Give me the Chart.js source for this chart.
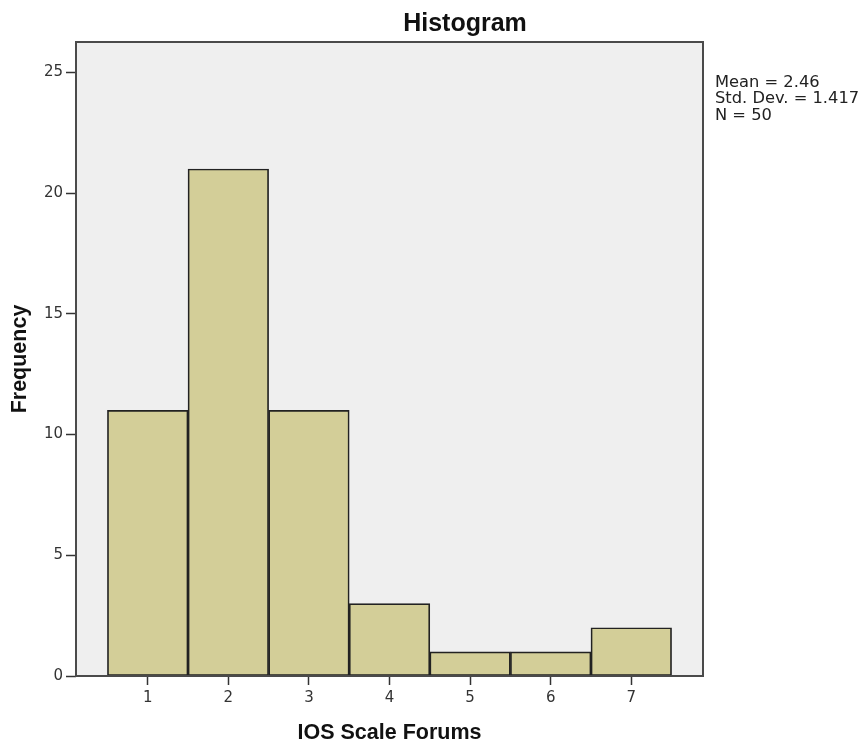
<!DOCTYPE html>
<html>
<head>
<meta charset="utf-8">
<script src="https://cdn.jsdelivr.net/npm/chart.js@4/dist/chart.umd.min.js"></script>
<style>
  html, body { margin: 0; padding: 0; background: #ffffff; }
  canvas { display: block; }
</style>
</head>
<body>
<canvas id="hist" width="858" height="746"></canvas>
<script>
// Histogram of IOS Scale Forums responses
const categories = [1, 2, 3, 4, 5, 6, 7];
const frequencies = [11, 21, 11, 3, 1, 1, 2];
const yTickValues = [0, 5, 10, 15, 20, 25];
const statsLines = ['Mean = 2.46', 'Std. Dev. = 1.417', 'N = 50'];
const chartTitle = 'Histogram';
const xTitle = 'IOS Scale Forums';
const yTitle = 'Frequency';

const TEXT_FONT = "'DejaVu Sans', 'Liberation Sans', sans-serif";
const TITLE_FONT = "'Liberation Sans', Arial, sans-serif";

// Plot panel: grey background and dark frame around the chart area
const panelPlugin = {
  id: 'panel',
  beforeDatasetsDraw(chart) {
    const { ctx, chartArea: a } = chart;
    ctx.save();
    ctx.fillStyle = '#efefef';
    ctx.fillRect(a.left, a.top, a.right - a.left, a.bottom - a.top);
    ctx.restore();
  },
  afterDatasetsDraw(chart) {
    const { ctx, chartArea: a } = chart;
    ctx.save();
    ctx.strokeStyle = '#4a4a4a';
    ctx.lineWidth = 2;
    ctx.strokeRect(a.left, a.top, a.right - a.left, a.bottom - a.top);
    ctx.restore();
  },
  afterDraw(chart) {
    const { ctx, chartArea: a } = chart;
    ctx.save();
    // Main title
    ctx.fillStyle = '#111111';
    ctx.font = "bold 25px " + TITLE_FONT;
    ctx.textAlign = 'center';
    ctx.textBaseline = 'alphabetic';
    ctx.fillText(chartTitle, 465, 31);
    // Summary statistics beside the panel
    ctx.font = "16.3px " + TEXT_FONT;
    ctx.textAlign = 'left';
    ctx.fillStyle = '#222222';
    statsLines.forEach((line, i) => {
      ctx.fillText(line, a.right + 12, 87 + i * 16.4);
    });
    ctx.restore();
  }
};

new Chart(document.getElementById('hist'), {
  type: 'bar',
  data: {
    datasets: [{
      data: categories.map((c, i) => ({ x: c, y: frequencies[i] })),
      backgroundColor: '#d3ce98',
      borderColor: '#222222',
      borderWidth: 1.7,
      borderSkipped: false,
      categoryPercentage: 1.0,
      barPercentage: 1.0
    }]
  },
  options: {
    responsive: false,
    animation: false,
    devicePixelRatio: 1,
    layout: { padding: { top: 42, right: 155, left: 0, bottom: 0 } },
    plugins: {
      legend: { display: false },
      tooltip: { enabled: false },
      title: { display: false }
    },
    scales: {
      x: {
        type: 'linear',
        offset: false,
        min: 0.11,
        max: 7.89,
        afterBuildTicks(scale) { scale.ticks = categories.map(v => ({ value: v })); },
        afterFit(scale) { scale.height = 70; },
        border: { display: false },
        grid: {
          offset: false,
          drawOnChartArea: false,
          drawTicks: true,
          tickLength: 9,
          tickColor: '#333333',
          tickWidth: 1.5
        },
        ticks: {
          padding: 4,
          color: '#333333',
          font: { family: TEXT_FONT, size: 15 },
          callback: v => String(v)
        },
        title: {
          display: true,
          text: xTitle,
          color: '#111111',
          font: { family: TITLE_FONT, size: 21.5, weight: 'bold' },
          padding: { top: 0, bottom: 0 }
        }
      },
      y: {
        type: 'linear',
        min: 0,
        max: 26.26,
        afterBuildTicks(scale) { scale.ticks = yTickValues.map(v => ({ value: v })); },
        afterFit(scale) { scale.width = 76; },
        border: { display: false },
        grid: {
          drawOnChartArea: false,
          drawTicks: true,
          tickLength: 10,
          tickColor: '#333333',
          tickWidth: 1.5
        },
        ticks: {
          padding: 3,
          color: '#333333',
          font: { family: TEXT_FONT, size: 15 },
          callback: v => String(v)
        },
        title: {
          display: true,
          text: yTitle,
          color: '#111111',
          font: { family: TITLE_FONT, size: 21.5, weight: 'bold' },
          padding: { top: 7, bottom: 0 }
        }
      }
    }
  },
  plugins: [panelPlugin]
});
</script>
</body>
</html>
